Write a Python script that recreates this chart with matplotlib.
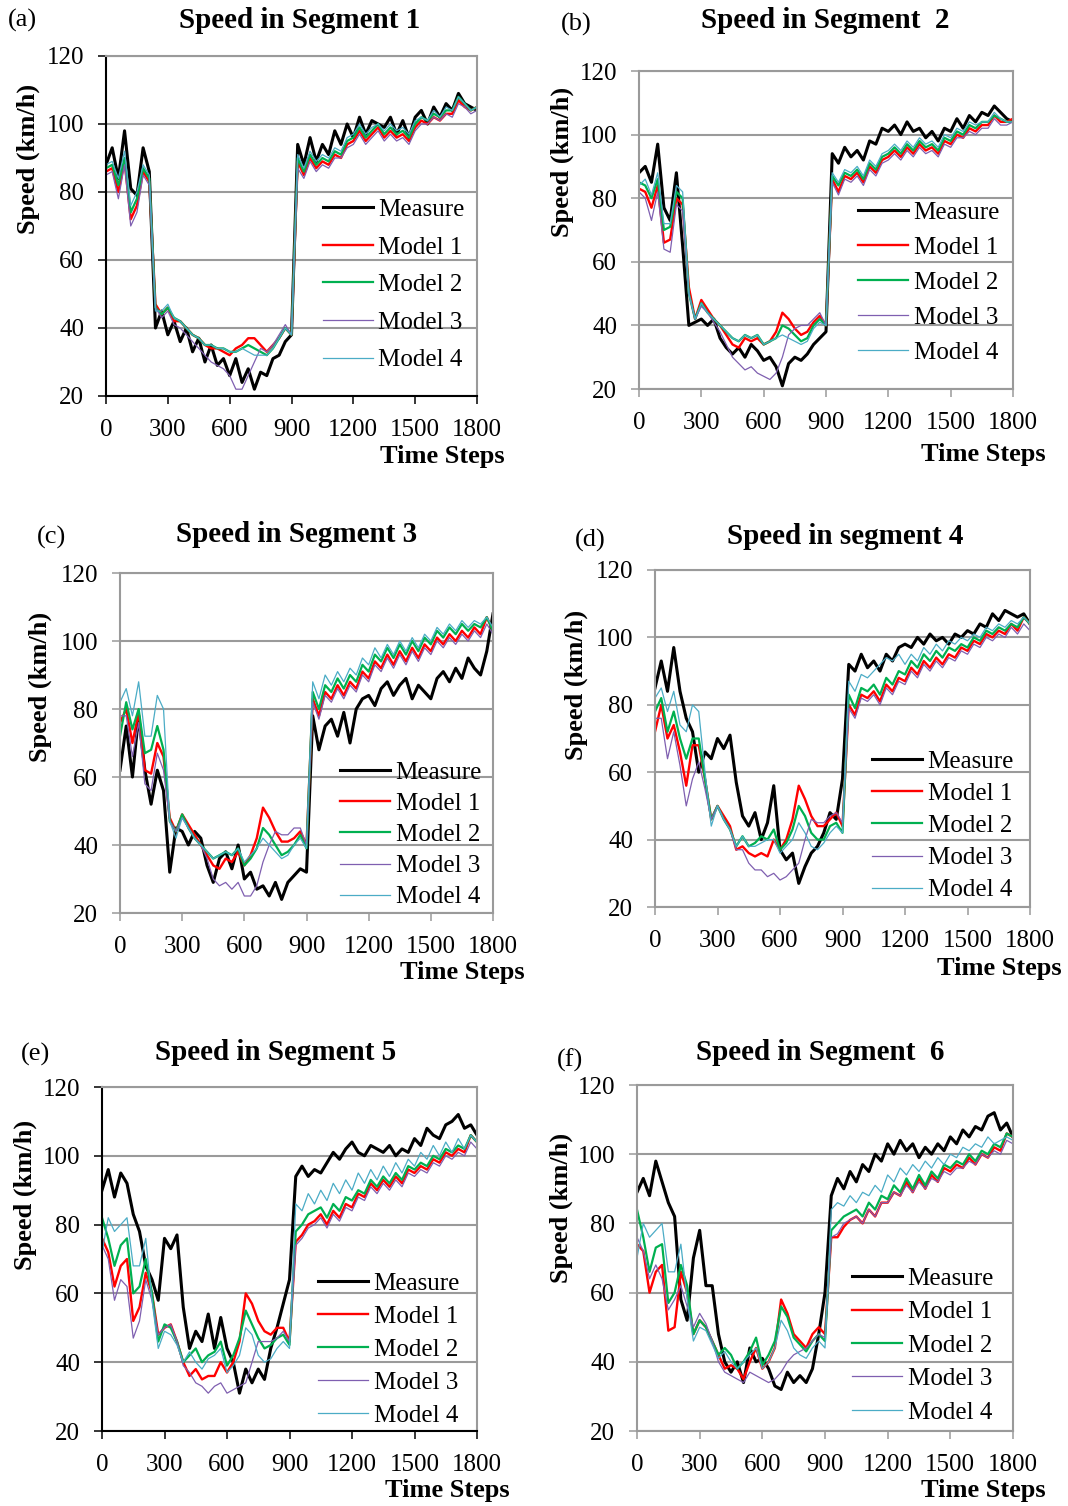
import numpy as np
import matplotlib
matplotlib.use("Agg")
import matplotlib.pyplot as plt

# Time steps (every 30 steps over the 1800-step horizon)
T = np.arange(0, 1801, 30)
SERIES = ["Measure", "Model 1", "Model 2", "Model 3", "Model 4"]
X_TICKS = [0, 300, 600, 900, 1200, 1500, 1800]
Y_TICKS = [20, 40, 60, 80, 100, 120]

# ---------------- Segment 1 ----------------
A_meas = [88, 93, 84, 98, 81, 79, 93, 86, 40, 45,
          38, 42, 36, 40, 33, 37, 30, 35, 29, 31,
          26, 31, 24, 28, 22, 27, 26, 31, 32, 36,
          38, 94, 88, 96, 89, 94, 91, 98, 94, 100,
          96, 102, 97, 101, 100, 99, 102, 97, 101, 96,
          102, 104, 100, 105, 102, 106, 104, 109, 106, 105,
          104]
A_m1 = [86, 87, 80, 89, 72, 76, 86, 83, 47, 44,
        46, 42, 42, 40, 38, 37, 35, 34, 34, 33,
        32, 34, 35, 37, 37, 35, 33, 35, 37, 40,
        38, 89, 85, 90, 87, 89, 88, 91, 90, 94,
        95, 98, 95, 97, 99, 96, 98, 96, 97, 95,
        99, 101, 100, 102, 101, 103, 103, 107, 105, 104,
        105]
A_m2 = [87, 88, 82, 90, 74, 78, 87, 84, 46, 44,
        46, 43, 42, 40, 38, 37, 35, 35, 34, 34,
        33, 33, 34, 35, 34, 33, 32, 34, 37, 40,
        38, 90, 86, 91, 88, 90, 89, 92, 91, 95,
        96, 99, 96, 98, 100, 97, 99, 97, 98, 96,
        100, 102, 101, 103, 102, 104, 104, 108, 106, 104,
        105]
A_m3 = [85, 86, 78, 88, 70, 74, 85, 82, 46, 43,
        45, 41, 40, 38, 36, 34, 32, 30, 29, 28,
        26, 22, 22, 26, 30, 34, 33, 35, 38, 41,
        38, 87, 84, 89, 86, 88, 87, 90, 90, 93,
        94, 97, 94, 96, 98, 95, 97, 95, 96, 94,
        98, 100, 100, 102, 101, 103, 102, 106, 105, 103,
        104]
A_m4 = [88, 89, 84, 92, 76, 80, 88, 85, 45, 45,
        47, 43, 42, 40, 38, 37, 35, 35, 34, 34,
        33, 33, 34, 33, 32, 32, 32, 34, 37, 40,
        38, 91, 87, 92, 89, 91, 90, 93, 92, 96,
        97, 100, 97, 99, 100, 98, 100, 98, 99, 97,
        101, 102, 101, 104, 102, 105, 104, 108, 106, 104,
        105]

# ---------------- Segment 2 ----------------
B_meas = [88, 90, 85, 97, 77, 73, 88, 65, 40, 41,
          42, 40, 42, 36, 33, 31, 33, 30, 34, 32,
          29, 30, 27, 21, 28, 30, 29, 31, 34, 36,
          38, 94, 91, 96, 93, 95, 92, 98, 97, 102,
          101, 103, 100, 104, 101, 102, 99, 101, 98, 102,
          101, 105, 102, 106, 104, 107, 106, 109, 107, 105,
          104]
B_m1 = [83, 82, 77, 84, 66, 67, 80, 78, 52, 42,
        48, 45, 42, 40, 37, 34, 33, 36, 35, 36,
        34, 35, 38, 44, 42, 39, 37, 38, 41, 43,
        40, 86, 82, 87, 86, 88, 85, 90, 88, 92,
        93, 95, 93, 96, 94, 97, 95, 96, 94, 98,
        97, 100, 99, 102, 101, 103, 103, 106, 104, 104,
        105]
B_m2 = [85, 84, 80, 86, 70, 71, 82, 80, 50, 42,
        47, 44, 42, 40, 38, 36, 35, 37, 36, 37,
        34, 35, 36, 40, 39, 37, 35, 36, 40, 42,
        40, 87, 84, 88, 87, 89, 86, 91, 89, 93,
        94, 96, 94, 97, 95, 98, 96, 97, 95, 99,
        98, 101, 100, 103, 102, 104, 104, 106, 105, 104,
        104]
B_m3 = [82, 80, 73, 82, 64, 63, 78, 76, 50, 42,
        46, 44, 41, 38, 34, 30, 28, 26, 27, 25,
        24, 23, 25, 30, 37, 39, 40, 40, 42, 44,
        40, 85, 81, 86, 85, 87, 84, 89, 87, 91,
        92, 94, 92, 95, 93, 96, 94, 95, 93, 97,
        96, 99, 99, 101, 100, 102, 102, 105, 103, 103,
        104]
B_m4 = [84, 86, 81, 88, 72, 72, 84, 82, 50, 42,
        47, 44, 42, 40, 38, 36, 35, 37, 36, 37,
        34, 35, 36, 37, 36, 35, 34, 35, 39, 41,
        40, 88, 85, 89, 88, 90, 87, 92, 90, 94,
        95, 97, 95, 98, 96, 99, 97, 98, 96, 100,
        99, 102, 101, 104, 103, 104, 104, 107, 105, 104,
        104]

# ---------------- Segment 3 ----------------
C_meas = [62, 75, 60, 78, 62, 52, 62, 56, 32, 45,
          44, 40, 44, 42, 34, 29, 36, 38, 33, 40,
          30, 32, 27, 28, 25, 29, 24, 29, 31, 33,
          32, 78, 68, 75, 77, 72, 79, 70, 80, 83,
          84, 81, 86, 88, 84, 87, 89, 83, 87, 85,
          83, 89, 91, 88, 92, 89, 95, 92, 90, 97,
          108]
C_m1 = [76, 80, 70, 79, 62, 61, 70, 66, 48, 44,
        49, 46, 43, 40, 37, 34, 33, 36, 35, 38,
        34, 37, 42, 51, 48, 44, 41, 41, 42, 44,
        40, 83, 78, 85, 83, 87, 84, 88, 86, 91,
        89, 94, 92, 96, 93, 97, 94, 98, 95, 99,
        97, 101, 99, 102, 100, 103, 101, 104, 102, 107,
        103]
C_m2 = [72, 82, 74, 80, 67, 68, 75, 68, 47, 44,
        49, 45, 42, 40, 38, 36, 37, 38, 37, 39,
        34, 36, 39, 45, 43, 40, 37, 38, 40, 43,
        39, 85, 80, 87, 85, 89, 86, 90, 88, 93,
        91, 96, 94, 98, 95, 99, 96, 100, 97, 101,
        99, 103, 101, 104, 102, 105, 103, 105, 104, 107,
        103]
C_m3 = [78, 78, 66, 76, 58, 56, 67, 62, 47, 44,
        48, 45, 42, 40, 36, 30, 28, 29, 27, 29,
        25, 25, 28, 35, 40, 44, 43, 43, 45, 45,
        40, 82, 77, 84, 82, 86, 83, 87, 85, 90,
        88, 93, 91, 95, 92, 96, 93, 97, 94, 98,
        96, 100, 98, 101, 99, 102, 100, 103, 101, 105,
        102]
C_m4 = [82, 86, 78, 88, 72, 72, 84, 80, 47, 42,
        48, 45, 42, 40, 38, 36, 37, 38, 37, 39,
        35, 37, 39, 42, 40, 38, 36, 37, 40, 42,
        39, 88, 83, 90, 87, 91, 88, 92, 90, 95,
        93, 98, 95, 99, 96, 100, 97, 101, 98, 102,
        100, 104, 102, 105, 103, 106, 104, 106, 105, 107,
        104]

# ---------------- Segment 4 ----------------
D_meas = [85, 93, 84, 97, 84, 76, 72, 60, 66, 64,
          70, 67, 71, 57, 47, 44, 48, 40, 45, 56,
          37, 34, 36, 27, 32, 36, 38, 42, 48, 46,
          58, 92, 90, 95, 91, 93, 90, 95, 93, 97,
          98, 97, 100, 98, 101, 99, 100, 98, 101, 100,
          102, 101, 104, 103, 107, 105, 108, 107, 106, 107,
          104]
D_m1 = [72, 80, 70, 74, 66, 56, 68, 68, 58, 46,
        50, 47, 44, 37, 38, 36, 35, 36, 35, 40,
        37, 40, 46, 56, 52, 47, 44, 44, 46, 48,
        44, 80, 77, 83, 82, 84, 81, 86, 84, 88,
        87, 91, 89, 93, 91, 94, 92, 95, 94, 97,
        96, 99, 98, 101, 100, 102, 101, 104, 102, 106,
        104]
D_m2 = [78, 82, 72, 78, 70, 64, 70, 70, 58, 46,
        50, 46, 43, 38, 41, 38, 39, 41, 40, 43,
        37, 39, 43, 50, 47, 42, 40, 40, 44, 45,
        42, 83, 79, 85, 84, 86, 83, 88, 86, 90,
        89, 93, 91, 95, 93, 96, 94, 97, 96, 98,
        97, 100, 99, 102, 101, 103, 102, 104, 103, 106,
        104]
D_m3 = [76, 76, 64, 72, 62, 50, 58, 63, 55, 46,
        50, 46, 43, 37, 37, 33, 31, 31, 29, 30,
        28, 29, 31, 33, 40, 46, 45, 45, 47, 48,
        45, 79, 76, 82, 81, 83, 80, 85, 83, 87,
        86, 90, 88, 92, 90, 93, 91, 94, 93, 96,
        95, 98, 97, 100, 99, 101, 100, 103, 101, 104,
        102]
D_m4 = [82, 85, 78, 84, 74, 72, 80, 78, 60, 44,
        50, 46, 43, 38, 41, 38, 38, 39, 40, 40,
        36, 38, 40, 45, 42, 38, 37, 39, 42, 44,
        42, 87, 84, 89, 88, 90, 92, 94, 93, 95,
        92, 95, 93, 97, 95, 98, 96, 99, 98, 100,
        99, 101, 100, 103, 102, 104, 103, 105, 104, 106,
        104]

# ---------------- Segment 5 ----------------
E_meas = [90, 96, 88, 95, 92, 83, 78, 68, 64, 58,
          76, 73, 77, 56, 44, 49, 46, 54, 44, 53,
          44, 40, 31, 38, 34, 38, 35, 44, 50, 57,
          64, 94, 97, 94, 96, 95, 98, 101, 99, 102,
          104, 101, 100, 103, 102, 101, 103, 100, 102, 101,
          105, 103, 108, 106, 105, 109, 110, 112, 108, 109,
          106]
E_m1 = [76, 72, 62, 68, 70, 52, 56, 66, 60, 48,
        50, 51, 46, 40, 36, 38, 35, 36, 36, 40,
        37, 40, 46, 60, 57, 52, 49, 48, 50, 50,
        46, 75, 77, 80, 81, 83, 80, 84, 82, 86,
        85, 89, 88, 92, 90, 93, 91, 94, 92, 96,
        95, 97, 96, 99, 98, 101, 100, 102, 101, 106,
        104]
E_m2 = [82, 76, 68, 74, 76, 60, 62, 70, 60, 46,
        51, 50, 46, 40, 42, 44, 40, 42, 43, 46,
        39, 42, 47, 55, 51, 47, 44, 45, 47, 48,
        45, 78, 80, 83, 84, 85, 82, 86, 84, 88,
        87, 90, 89, 93, 91, 94, 92, 95, 93, 97,
        96, 98, 97, 100, 99, 102, 101, 103, 102, 106,
        104]
E_m3 = [74, 70, 58, 64, 62, 47, 52, 64, 58, 48,
        50, 51, 46, 39, 37, 34, 33, 31, 33, 34,
        31, 32, 33, 34, 40, 46, 46, 46, 47, 49,
        46, 74, 76, 79, 80, 82, 79, 83, 81, 85,
        84, 88, 87, 91, 89, 92, 90, 93, 91, 95,
        94, 96, 95, 98, 97, 100, 99, 101, 100, 104,
        102]
E_m4 = [72, 82, 78, 80, 82, 68, 68, 76, 58, 44,
        49, 48, 45, 40, 43, 40, 38, 41, 42, 44,
        37, 39, 42, 50, 48, 42, 40, 41, 44, 46,
        44, 86, 84, 89, 86, 90, 87, 92, 89, 93,
        90, 95, 92, 96, 93, 97, 94, 98, 95, 99,
        97, 101, 99, 103, 100, 104, 101, 105, 102, 106,
        104]

# ---------------- Segment 6 ----------------
F_meas = [89, 93, 88, 98, 92, 86, 82, 58, 52, 70,
          78, 62, 62, 48, 40, 37, 40, 34, 44, 40,
          41, 38, 33, 32, 37, 34, 36, 34, 38, 48,
          60, 88, 93, 90, 95, 92, 97, 95, 100, 98,
          103, 100, 104, 101, 103, 99, 102, 100, 103, 101,
          105, 103, 107, 105, 108, 107, 111, 112, 107, 109,
          105]
F_m1 = [74, 72, 60, 66, 68, 49, 50, 66, 60, 48,
        52, 50, 46, 42, 38, 39, 38, 35, 40, 44,
        38, 40, 44, 58, 54, 48, 46, 44, 48, 50,
        48, 76, 76, 79, 81, 82, 80, 84, 82, 86,
        86, 89, 88, 92, 89, 93, 90, 94, 92, 96,
        95, 97, 96, 99, 97, 100, 99, 102, 101, 106,
        105]
F_m2 = [84, 76, 66, 73, 74, 57, 60, 68, 62, 48,
        52, 50, 46, 42, 44, 42, 38, 40, 43, 47,
        39, 42, 46, 56, 53, 47, 45, 43, 46, 48,
        46, 78, 80, 82, 83, 84, 82, 86, 84, 88,
        87, 91, 89, 93, 90, 94, 91, 95, 93, 97,
        96, 98, 97, 100, 98, 101, 100, 103, 102, 106,
        105]
F_m3 = [76, 72, 64, 68, 64, 55, 58, 62, 56, 50,
        54, 51, 46, 40, 37, 36, 35, 34, 37, 36,
        35, 34, 35, 37, 40, 42, 43, 44, 46, 48,
        47, 76, 77, 80, 81, 82, 80, 84, 82, 86,
        86, 89, 88, 91, 89, 92, 90, 93, 92, 95,
        94, 96, 96, 98, 97, 100, 99, 101, 100, 104,
        103]
F_m4 = [70, 80, 76, 78, 80, 66, 66, 74, 58, 46,
        50, 49, 45, 41, 43, 40, 38, 40, 42, 44,
        38, 40, 44, 52, 49, 44, 42, 41, 44, 46,
        44, 84, 86, 85, 88, 86, 89, 88, 91, 89,
        94, 92, 96, 94, 97, 95, 98, 96, 99, 97,
        100, 99, 102, 101, 103, 102, 105, 103, 104, 105,
        104]

# ---------------- Styling ----------------
COLORS = ["#000000", "#FF0000", "#00B050", "#7F5FB0", "#4BACC6"]
WIDTHS = [2.2, 1.7, 1.6, 0.9, 0.9]
GRID = "#9A9A9A"

W, H = 1068, 1506
plt.rcParams["font.family"] = ["Liberation Serif", "DejaVu Serif"]
fig = plt.figure(figsize=(W / 100, H / 100), dpi=100)


def fx(px):
    return px / W


def fy(py):
    return 1 - py / H


# box = (left, right, top, bottom) in pixels
PANELS = [
    dict(box=(106, 477, 56, 396), data=[A_meas, A_m1, A_m2, A_m3, A_m4],
         title="Speed in Segment 1", title_xy=(300, 21), tag="(a)", tag_xy=(22, 20),
         ylab_xy=(28, 159), xlab_xy=(505, 457), leg=(323, 208, 37.7), dark=True),
    dict(box=(639, 1013, 71, 389), data=[B_meas, B_m1, B_m2, B_m3, B_m4],
         title="Speed in Segment  2", title_xy=(825, 21), tag="(b)", tag_xy=(576, 24),
         ylab_xy=(562, 162), xlab_xy=(1046, 455), leg=(858, 211, 35.0), dark=False),
    dict(box=(120, 493, 573, 913), data=[C_meas, C_m1, C_m2, C_m3, C_m4],
         title="Speed in Segment 3", title_xy=(297, 535), tag="(c)", tag_xy=(51, 537),
         ylab_xy=(40, 687), xlab_xy=(525, 973), leg=(340, 771, 31.2), dark=False),
    dict(box=(655, 1030, 570, 907), data=[D_meas, D_m1, D_m2, D_m3, D_m4],
         title="Speed in segment 4", title_xy=(845, 536), tag="(d)", tag_xy=(590, 540),
         ylab_xy=(576, 685), xlab_xy=(1062, 968), leg=(872, 760, 32.2), dark=False),
    dict(box=(102, 477, 1087, 1431), data=[E_meas, E_m1, E_m2, E_m3, E_m4],
         title="Speed in Segment 5", title_xy=(276, 1052), tag="(e)", tag_xy=(36, 1054),
         ylab_xy=(25, 1195), xlab_xy=(510, 1490), leg=(318, 1282, 33.0), dark=True),
    dict(box=(637, 1013, 1085, 1431), data=[F_meas, F_m1, F_m2, F_m3, F_m4],
         title="Speed in Segment  6", title_xy=(820, 1052), tag="(f)", tag_xy=(570, 1060),
         ylab_xy=(561, 1208), xlab_xy=(1046, 1490), leg=(852, 1277, 33.5), dark=False),
]

FS_TICK = 18
FS_LEG = 18
FS_LAB = 19
FS_TITLE = 21
FS_PX = FS_LEG * 100 / 72.0
ROW_H = 22.6      # legend text row height in pixels
ROW_TOP = 9.5     # first row centre below the legend's top edge

for p in PANELS:
    l, r, t, b = p["box"]
    ax = fig.add_axes([fx(l), fy(b), (r - l) / W, (b - t) / H])
    handles = []
    for name, vals, c, lw in zip(SERIES, p["data"], COLORS, WIDTHS):
        assert len(vals) == len(T), name
        h, = ax.plot(T, vals, color=c, lw=lw, label=name, solid_joinstyle="round")
        handles.append(h)

    ax.set_xlim(0, 1800)
    ax.set_ylim(20, 120)
    ax.set_xticks(X_TICKS)
    ax.set_yticks(Y_TICKS)
    ax.yaxis.grid(True, color=GRID, lw=1.5)
    ax.set_axisbelow(True)

    edge = "#000000" if p["dark"] else GRID
    for side in ("top", "right"):
        ax.spines[side].set_color(GRID)
        ax.spines[side].set_linewidth(1.5)
    for side in ("left", "bottom"):
        ax.spines[side].set_color(edge)
        ax.spines[side].set_linewidth(1.5)
    ax.tick_params(axis="both", direction="out", length=5.8, width=1.1,
                   color=edge, labelsize=FS_TICK)
    ax.tick_params(axis="x", pad=10.8)
    ax.tick_params(axis="y", pad=10)

    lx, ly, step = p["leg"]
    ls = (step - ROW_H) / FS_PX
    ax.legend(handles, SERIES, loc="upper left",
              bbox_to_anchor=(fx(lx), fy(ly - ROW_TOP)),
              bbox_transform=fig.transFigure, frameon=False, borderpad=0,
              borderaxespad=0, handlelength=2.0, handletextpad=0.22,
              labelspacing=ls, fontsize=FS_LEG)

    tx, ty = p["title_xy"]
    fig.text(fx(tx), fy(ty), p["title"], ha="center", va="center",
             fontsize=FS_TITLE, fontweight="bold")
    gx, gy = p["tag_xy"]
    fig.text(fx(gx), fy(gy), p["tag"], ha="center", va="center", fontsize=19)
    yx, yy = p["ylab_xy"]
    fig.text(fx(yx), fy(yy), "Speed (km/h)", ha="center", va="center",
             rotation=90, fontsize=FS_LAB, fontweight="bold")
    xx, xy = p["xlab_xy"]
    fig.text(fx(xx), fy(xy), "Time Steps", ha="right", va="center",
             fontsize=FS_LAB, fontweight="bold")

fig.savefig("out.png", dpi=100)
